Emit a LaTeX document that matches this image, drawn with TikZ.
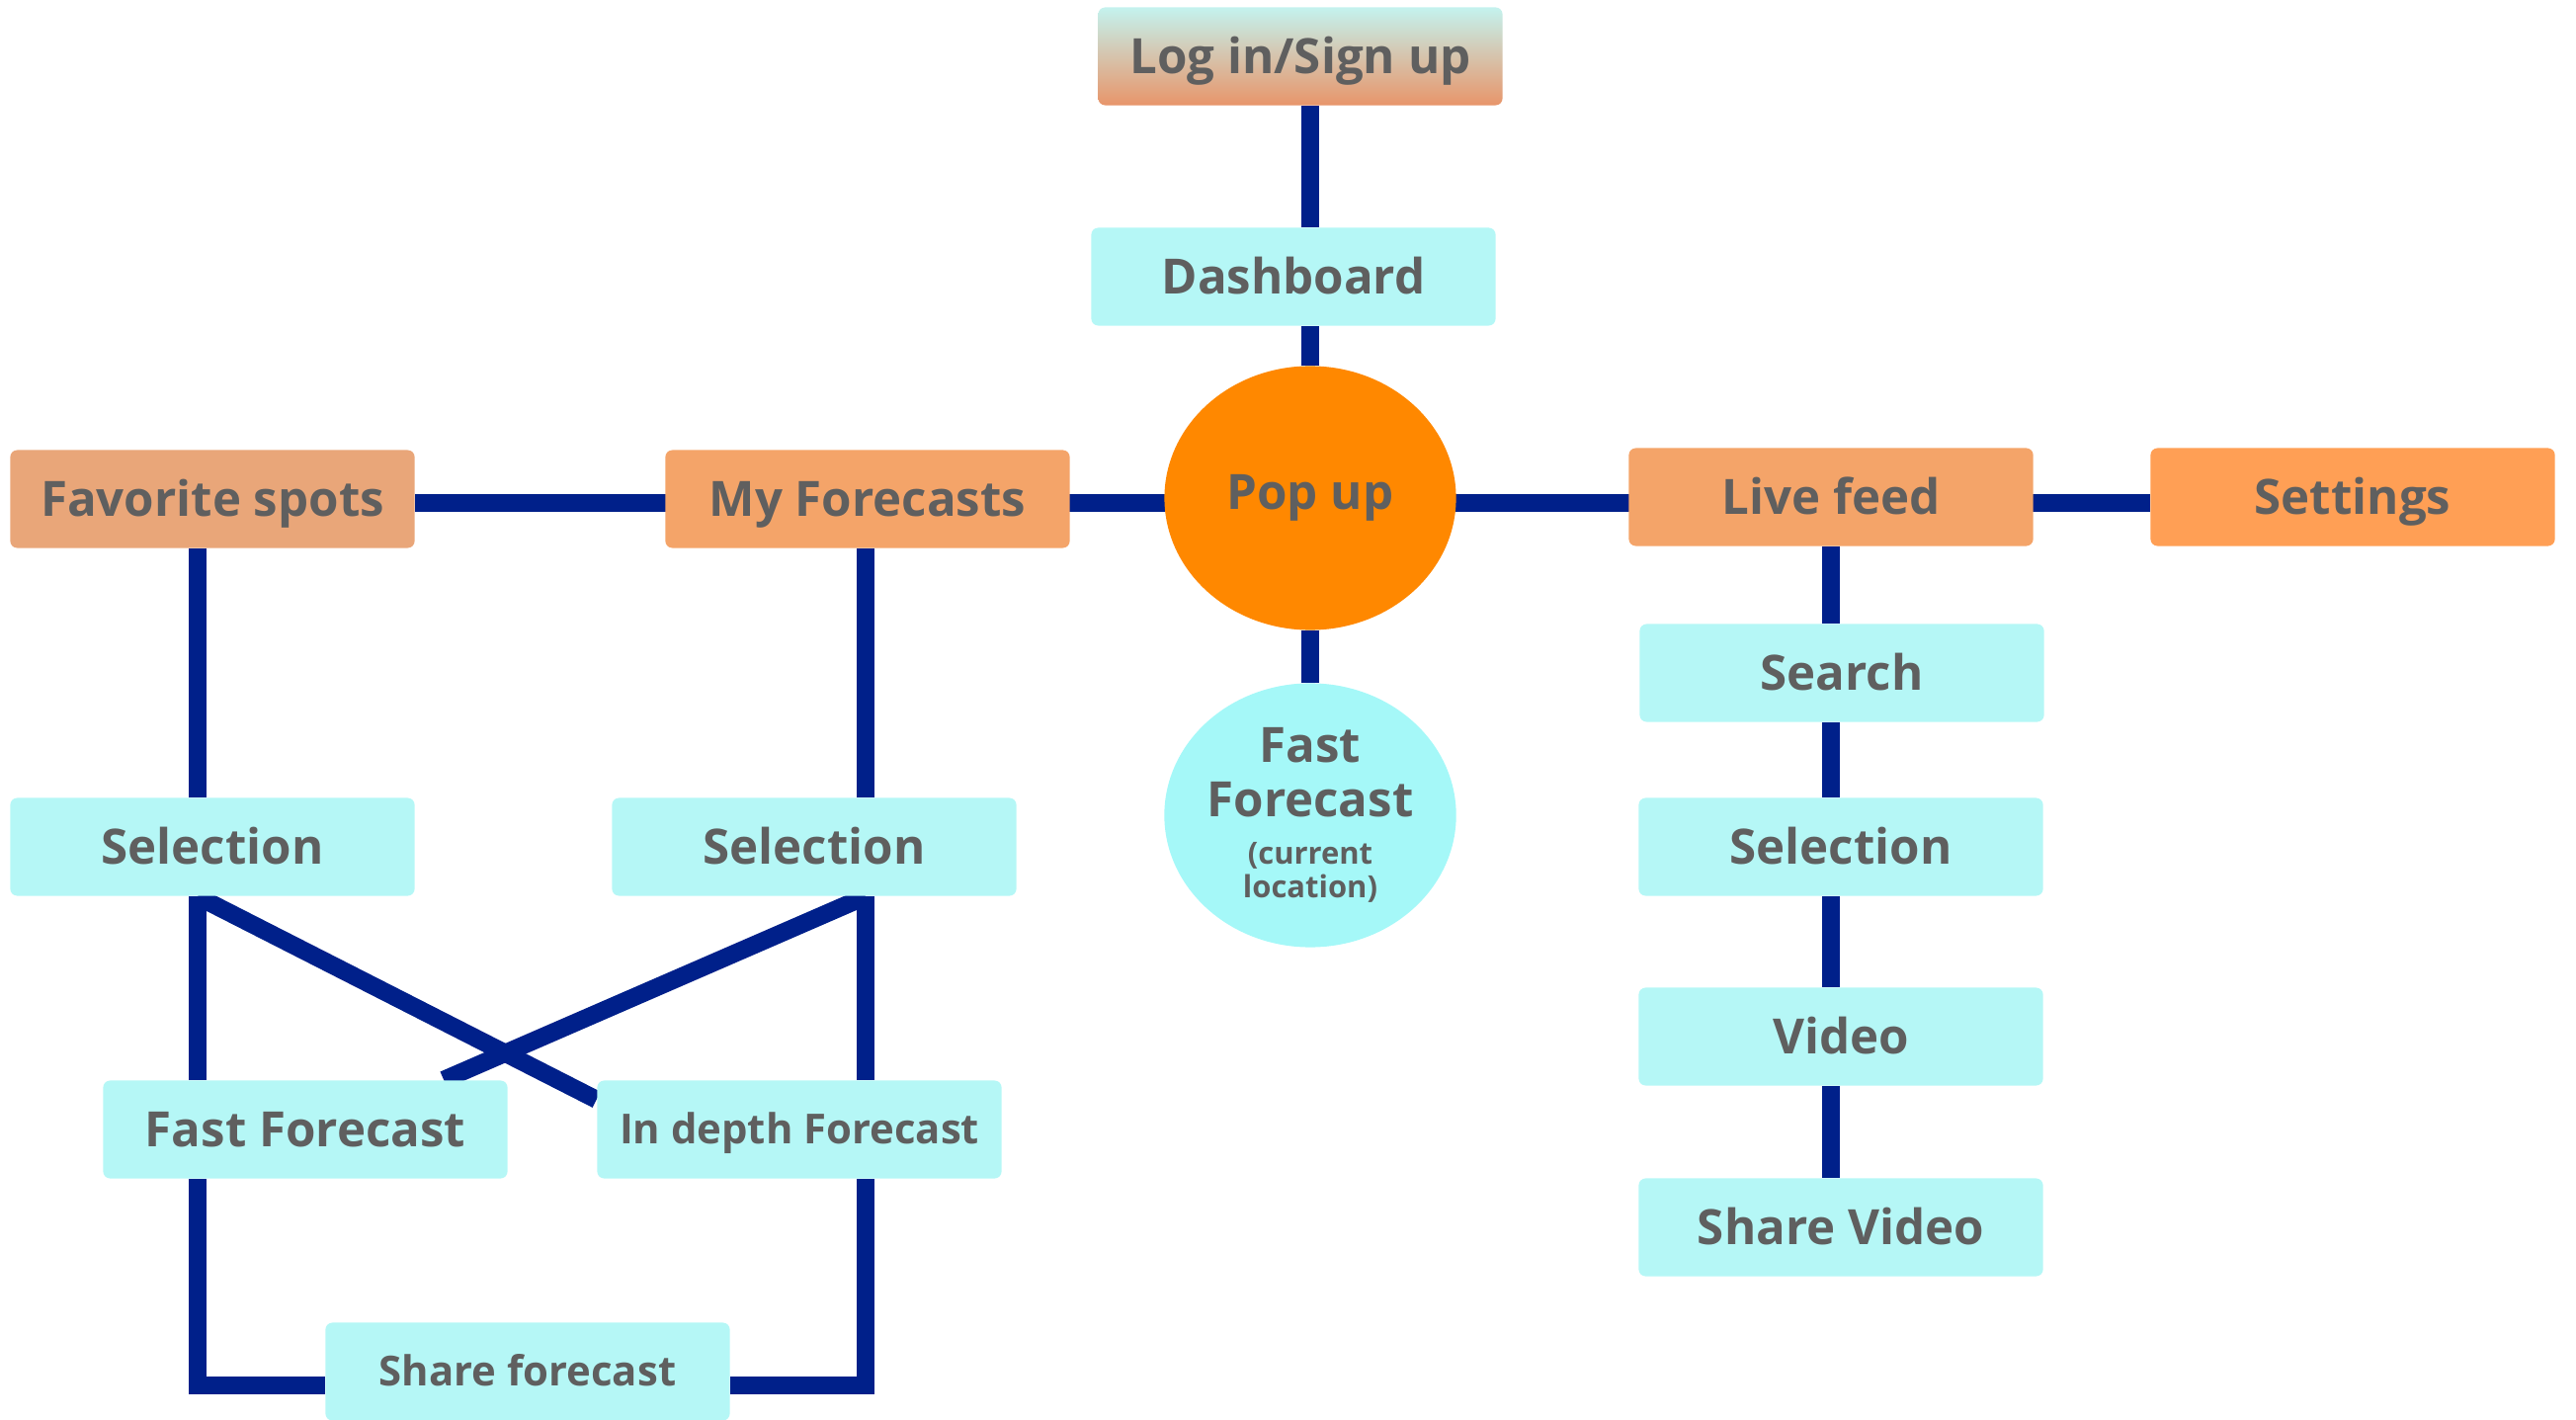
\documentclass[tikz,border=0pt]{standalone}
\usepackage{fontspec}
\setmainfont{Open Sans}
\usetikzlibrary{shapes.geometric,backgrounds}
\definecolor{navy}{HTML}{00208A}
\definecolor{txt}{HTML}{5F5F5F}
\definecolor{aqua}{HTML}{B5F7F6}
\definecolor{aquadeep}{HTML}{A5F8F8}
\definecolor{salmon}{HTML}{E9A679}
\definecolor{peach}{HTML}{F4A469}
\definecolor{tangerine}{HTML}{FF9F55}
\definecolor{poporange}{HTML}{FF8800}
\definecolor{logintop}{HTML}{C4F2EE}
\definecolor{loginbot}{HTML}{E8956A}
\begin{document}
\begin{tikzpicture}[x=0.01cm,y=-0.01cm,
    box/.style={rounded corners=2pt,minimum width=4.09cm,minimum height=0.99cm,inner sep=0pt,
      text=txt,text height=10pt,text depth=0pt,font=\fontsize{14}{16}\selectfont\bfseries},
    minor/.style={text height=8.5pt,font=\fontsize{11.9}{13}\selectfont\bfseries},
    blob/.style={ellipse,minimum width=2.95cm,minimum height=2.67cm,inner sep=0pt,text=txt,
      font=\fontsize{14}{15.6}\selectfont\bfseries,align=center},
    link/.style={navy,line width=0.18cm}]
    \useasboundingbox (0,0) rectangle (2607,1437);
    \node[box,top color=logintop,bottom color=loginbot] (login) at (1316,57) {Log in/Sign up};
    \node[box,fill=aqua] (dash) at (1309,280) {Dashboard};
    \node[blob,fill=poporange] (popup) at (1326,504) {Pop up};
    \node[blob,fill=aquadeep] (quick) at (1326,825)
        {Fast\\Forecast\\[-2pt]{\fontsize{8.8}{9.8}\selectfont(current}\\[-6pt]{\fontsize{8.8}{9.8}\selectfont location)}};
    \node[box,fill=salmon] (fav) at (215,505) {Favorite spots};
    \node[box,fill=peach] (mine) at (878,505) {My Forecasts};
    \node[box,fill=peach] (live) at (1853,503) {Live feed};
    \node[box,fill=tangerine] (prefs) at (2381,503) {Settings};
    \node[box,fill=aqua] (pickA) at (215,857) {Selection};
    \node[box,fill=aqua] (pickB) at (824,857) {Selection};
    \node[box,fill=aqua] (fastA) at (309,1143) {Fast Forecast};
    \node[box,fill=aqua,minor] (deep) at (809,1143) {In depth Forecast};
    \node[box,fill=aqua,minor] (shareF) at (534,1388) {Share forecast};
    \node[box,fill=aqua] (search) at (1864,681) {Search};
    \node[box,fill=aqua] (pickC) at (1863,857) {Selection};
    \node[box,fill=aqua] (video) at (1863,1049) {Video};
    \node[box,fill=aqua] (shareV) at (1863,1242) {Share Video};
    \coordinate (hrow) at (0,509);
    \coordinate (lbend) at (200,1402);
    \coordinate (rbend) at (876,1402);
    \begin{scope}[on background layer]
        \draw[link] (fav.east |- hrow) -- (prefs.west |- hrow);
        \draw[link] (login.south -| popup) -- (dash.north -| popup);
        \draw[link] (dash.south -| popup) -- (popup.north);
        \draw[link] (popup.south) -- (quick.north);
        \draw[link] (fav.south -| lbend) -- (pickA.north -| lbend);
        \draw[link] (pickA.south -| lbend) -- (fastA.north -| lbend);
        \draw[link] (fastA.south -| lbend) -- (lbend) -- (shareF.west |- lbend);
        \draw[link] (mine.south -| rbend) -- (pickB.north -| rbend);
        \draw[link] (pickB.south -| rbend) -- (deep.north -| rbend);
        \draw[link] (deep.south -| rbend) -- (rbend) -- (shareF.east |- rbend);
        \draw[link] (pickA.south -| lbend) -- ([yshift=-0.2cm]deep.north west);
        \draw[link] (pickB.south -| rbend) -- ([xshift=1.4cm]fastA.north);
        \draw[link] (live.south) -- (search.north -| live);
        \draw[link] (search.south -| live) -- (pickC.north -| live);
        \draw[link] (pickC.south -| live) -- (video.north -| live);
        \draw[link] (video.south -| live) -- (shareV.north -| live);
    \end{scope}
\end{tikzpicture}
\end{document}
